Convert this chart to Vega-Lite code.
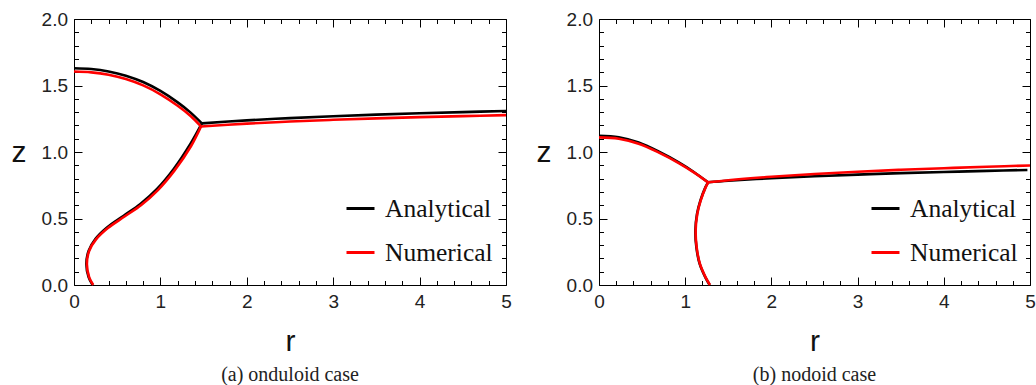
{
  "$schema": "https://vega.github.io/schema/vega-lite/v6.json",
  "padding": {"left": 10, "top": 9, "right": 5, "bottom": 2},
  "background": "white",
  "config": {
    "view": {"stroke": "#000", "strokeWidth": 1},
    "axis": {"grid": false, "domain": false, "tickColor": "#000", "tickWidth": 1, "labelFont": "Liberation Sans", "labelFontSize": 19, "labelColor": "#222", "titleFont": "Liberation Sans", "titleFontSize": 30, "titleFontWeight": "normal", "titleColor": "#111", "labelFlush": false, "labelOverlap": false},
    "legend": {"title": null, "orient": "none", "legendX": 271, "legendY": 174, "padding": 0, "symbolType": "stroke", "symbolSize": 784, "symbolStrokeWidth": 3, "labelFont": "Liberation Serif", "labelFontSize": 25.5, "labelColor": "#111", "labelOffset": 9, "rowPadding": 15, "labelLimit": 300},
    "title": {"font": "Liberation Serif", "fontSize": 20, "fontWeight": "normal", "color": "#222", "offset": 8},
    "concat": {"spacing": 23}
  },
  "datasets": {
    "a": [
      {"s": "Analytical", "g": "upper", "i": 0, "r": 0, "z": 1.630},
      {"s": "Analytical", "g": "upper", "i": 1, "r": 0.2, "z": 1.624},
      {"s": "Analytical", "g": "upper", "i": 2, "r": 0.4, "z": 1.606},
      {"s": "Analytical", "g": "upper", "i": 3, "r": 0.6, "z": 1.574},
      {"s": "Analytical", "g": "upper", "i": 4, "r": 0.8, "z": 1.526},
      {"s": "Analytical", "g": "upper", "i": 5, "r": 1.0, "z": 1.459},
      {"s": "Analytical", "g": "upper", "i": 6, "r": 1.2, "z": 1.373},
      {"s": "Analytical", "g": "upper", "i": 7, "r": 1.35, "z": 1.296},
      {"s": "Analytical", "g": "upper", "i": 8, "r": 1.48, "z": 1.215},
      {"s": "Analytical", "g": "right", "i": 0, "r": 1.48, "z": 1.215},
      {"s": "Analytical", "g": "right", "i": 1, "r": 2, "z": 1.238},
      {"s": "Analytical", "g": "right", "i": 2, "r": 2.5, "z": 1.255},
      {"s": "Analytical", "g": "right", "i": 3, "r": 3, "z": 1.269},
      {"s": "Analytical", "g": "right", "i": 4, "r": 3.5, "z": 1.281},
      {"s": "Analytical", "g": "right", "i": 5, "r": 4, "z": 1.291},
      {"s": "Analytical", "g": "right", "i": 6, "r": 4.5, "z": 1.300},
      {"s": "Analytical", "g": "right", "i": 7, "r": 5, "z": 1.308},
      {"s": "Analytical", "g": "lower", "i": 0, "r": 0.216, "z": 0},
      {"s": "Analytical", "g": "lower", "i": 1, "r": 0.17, "z": 0.057},
      {"s": "Analytical", "g": "lower", "i": 2, "r": 0.143, "z": 0.158},
      {"s": "Analytical", "g": "lower", "i": 3, "r": 0.17, "z": 0.258},
      {"s": "Analytical", "g": "lower", "i": 4, "r": 0.247, "z": 0.346},
      {"s": "Analytical", "g": "lower", "i": 5, "r": 0.382, "z": 0.433},
      {"s": "Analytical", "g": "lower", "i": 6, "r": 0.575, "z": 0.521},
      {"s": "Analytical", "g": "lower", "i": 7, "r": 0.768, "z": 0.609},
      {"s": "Analytical", "g": "lower", "i": 8, "r": 0.961, "z": 0.722},
      {"s": "Analytical", "g": "lower", "i": 9, "r": 1.154, "z": 0.872},
      {"s": "Analytical", "g": "lower", "i": 10, "r": 1.347, "z": 1.06},
      {"s": "Analytical", "g": "lower", "i": 11, "r": 1.48, "z": 1.215},
      {"s": "Numerical", "g": "upper", "i": 0, "r": 0, "z": 1.605},
      {"s": "Numerical", "g": "upper", "i": 1, "r": 0.2, "z": 1.599},
      {"s": "Numerical", "g": "upper", "i": 2, "r": 0.4, "z": 1.581},
      {"s": "Numerical", "g": "upper", "i": 3, "r": 0.6, "z": 1.549},
      {"s": "Numerical", "g": "upper", "i": 4, "r": 0.8, "z": 1.501},
      {"s": "Numerical", "g": "upper", "i": 5, "r": 1.0, "z": 1.434},
      {"s": "Numerical", "g": "upper", "i": 6, "r": 1.2, "z": 1.348},
      {"s": "Numerical", "g": "upper", "i": 7, "r": 1.35, "z": 1.271},
      {"s": "Numerical", "g": "upper", "i": 8, "r": 1.47, "z": 1.192},
      {"s": "Numerical", "g": "right", "i": 0, "r": 1.47, "z": 1.192},
      {"s": "Numerical", "g": "right", "i": 1, "r": 2, "z": 1.213},
      {"s": "Numerical", "g": "right", "i": 2, "r": 2.5, "z": 1.229},
      {"s": "Numerical", "g": "right", "i": 3, "r": 3, "z": 1.242},
      {"s": "Numerical", "g": "right", "i": 4, "r": 3.5, "z": 1.253},
      {"s": "Numerical", "g": "right", "i": 5, "r": 4, "z": 1.262},
      {"s": "Numerical", "g": "right", "i": 6, "r": 4.5, "z": 1.270},
      {"s": "Numerical", "g": "right", "i": 7, "r": 5, "z": 1.277},
      {"s": "Numerical", "g": "lower", "i": 0, "r": 0.222, "z": 0},
      {"s": "Numerical", "g": "lower", "i": 1, "r": 0.176, "z": 0.057},
      {"s": "Numerical", "g": "lower", "i": 2, "r": 0.149, "z": 0.158},
      {"s": "Numerical", "g": "lower", "i": 3, "r": 0.176, "z": 0.258},
      {"s": "Numerical", "g": "lower", "i": 4, "r": 0.255, "z": 0.343},
      {"s": "Numerical", "g": "lower", "i": 5, "r": 0.392, "z": 0.428},
      {"s": "Numerical", "g": "lower", "i": 6, "r": 0.585, "z": 0.515},
      {"s": "Numerical", "g": "lower", "i": 7, "r": 0.778, "z": 0.602},
      {"s": "Numerical", "g": "lower", "i": 8, "r": 0.971, "z": 0.714},
      {"s": "Numerical", "g": "lower", "i": 9, "r": 1.164, "z": 0.862},
      {"s": "Numerical", "g": "lower", "i": 10, "r": 1.355, "z": 1.045},
      {"s": "Numerical", "g": "lower", "i": 11, "r": 1.47, "z": 1.192}
    ],
    "b": [
      {"s": "Analytical", "g": "upper", "i": 0, "r": 0, "z": 1.122},
      {"s": "Analytical", "g": "upper", "i": 1, "r": 0.23, "z": 1.111},
      {"s": "Analytical", "g": "upper", "i": 2, "r": 0.46, "z": 1.071},
      {"s": "Analytical", "g": "upper", "i": 3, "r": 0.69, "z": 1.004},
      {"s": "Analytical", "g": "upper", "i": 4, "r": 0.925, "z": 0.922},
      {"s": "Analytical", "g": "upper", "i": 5, "r": 1.1, "z": 0.850},
      {"s": "Analytical", "g": "upper", "i": 6, "r": 1.265, "z": 0.772},
      {"s": "Analytical", "g": "right", "i": 0, "r": 1.265, "z": 0.772},
      {"s": "Analytical", "g": "right", "i": 1, "r": 1.5, "z": 0.784},
      {"s": "Analytical", "g": "right", "i": 2, "r": 2, "z": 0.803},
      {"s": "Analytical", "g": "right", "i": 3, "r": 2.5, "z": 0.818},
      {"s": "Analytical", "g": "right", "i": 4, "r": 3, "z": 0.830},
      {"s": "Analytical", "g": "right", "i": 5, "r": 3.5, "z": 0.841},
      {"s": "Analytical", "g": "right", "i": 6, "r": 4, "z": 0.850},
      {"s": "Analytical", "g": "right", "i": 7, "r": 4.5, "z": 0.858},
      {"s": "Analytical", "g": "right", "i": 8, "r": 4.97, "z": 0.865},
      {"s": "Analytical", "g": "lower", "i": 0, "r": 1.265, "z": 0.772},
      {"s": "Analytical", "g": "lower", "i": 1, "r": 1.234, "z": 0.734},
      {"s": "Analytical", "g": "lower", "i": 2, "r": 1.176, "z": 0.634},
      {"s": "Analytical", "g": "lower", "i": 3, "r": 1.137, "z": 0.534},
      {"s": "Analytical", "g": "lower", "i": 4, "r": 1.118, "z": 0.408},
      {"s": "Analytical", "g": "lower", "i": 5, "r": 1.13, "z": 0.283},
      {"s": "Analytical", "g": "lower", "i": 6, "r": 1.168, "z": 0.158},
      {"s": "Analytical", "g": "lower", "i": 7, "r": 1.234, "z": 0.057},
      {"s": "Analytical", "g": "lower", "i": 8, "r": 1.284, "z": 0},
      {"s": "Numerical", "g": "upper", "i": 0, "r": 0, "z": 1.110},
      {"s": "Numerical", "g": "upper", "i": 1, "r": 0.23, "z": 1.100},
      {"s": "Numerical", "g": "upper", "i": 2, "r": 0.46, "z": 1.062},
      {"s": "Numerical", "g": "upper", "i": 3, "r": 0.69, "z": 0.997},
      {"s": "Numerical", "g": "upper", "i": 4, "r": 0.925, "z": 0.917},
      {"s": "Numerical", "g": "upper", "i": 5, "r": 1.1, "z": 0.847},
      {"s": "Numerical", "g": "upper", "i": 6, "r": 1.265, "z": 0.772},
      {"s": "Numerical", "g": "right", "i": 0, "r": 1.265, "z": 0.772},
      {"s": "Numerical", "g": "right", "i": 1, "r": 1.5, "z": 0.788},
      {"s": "Numerical", "g": "right", "i": 2, "r": 2, "z": 0.814},
      {"s": "Numerical", "g": "right", "i": 3, "r": 2.5, "z": 0.835},
      {"s": "Numerical", "g": "right", "i": 4, "r": 3, "z": 0.852},
      {"s": "Numerical", "g": "right", "i": 5, "r": 3.5, "z": 0.866},
      {"s": "Numerical", "g": "right", "i": 6, "r": 4, "z": 0.878},
      {"s": "Numerical", "g": "right", "i": 7, "r": 4.5, "z": 0.889},
      {"s": "Numerical", "g": "right", "i": 8, "r": 5, "z": 0.899},
      {"s": "Numerical", "g": "lower", "i": 0, "r": 1.268, "z": 0.772},
      {"s": "Numerical", "g": "lower", "i": 1, "r": 1.237, "z": 0.734},
      {"s": "Numerical", "g": "lower", "i": 2, "r": 1.179, "z": 0.634},
      {"s": "Numerical", "g": "lower", "i": 3, "r": 1.14, "z": 0.534},
      {"s": "Numerical", "g": "lower", "i": 4, "r": 1.121, "z": 0.408},
      {"s": "Numerical", "g": "lower", "i": 5, "r": 1.133, "z": 0.283},
      {"s": "Numerical", "g": "lower", "i": 6, "r": 1.171, "z": 0.158},
      {"s": "Numerical", "g": "lower", "i": 7, "r": 1.237, "z": 0.057},
      {"s": "Numerical", "g": "lower", "i": 8, "r": 1.287, "z": 0}
    ]
  },
  "hconcat": [
    {
      "width": 432, "height": 266,
      "title": {"text": "(a) onduloid case", "orient": "bottom"},
      "data": {"name": "a"},
      "layer": [
        {
          "mark": {"type": "line", "strokeWidth": 2.6, "interpolate": "catmull-rom"},
          "encoding": {
            "x": {"field": "r", "type": "quantitative", "scale": {"domain": [0, 5], "nice": false, "zero": false},
              "axis": {"orient": "bottom", "values": [0,0.2,0.4,0.6,0.8,1,1.2,1.4,1.6,1.8,2,2.2,2.4,2.6,2.8,3,3.2,3.4,3.6,3.8,4,4.2,4.4,4.6,4.8,5],
                "labelExpr": "datum.value % 1 === 0 ? format(datum.value, 'd') : ''",
                "labelFontSize": 19, "labelFont": "Liberation Sans", "titleFontSize": 30, "titleFont": "Liberation Sans",
                "tickSize": {"condition": {"test": "datum.value % 1 === 0", "value": -8}, "value": -4.5},
                "labelPadding": 15, "title": "r", "titlePadding": 12}},
            "y": {"field": "z", "type": "quantitative", "scale": {"domain": [0, 2], "nice": false},
              "axis": {"orient": "left", "values": [0,0.1,0.2,0.3,0.4,0.5,0.6,0.7,0.8,0.9,1,1.1,1.2,1.3,1.4,1.5,1.6,1.7,1.8,1.9,2],
                "labelExpr": "datum.value % 0.5 === 0 ? format(datum.value, '.1f') : ''",
                "labelFontSize": 19, "labelFont": "Liberation Sans", "titleFontSize": 30, "titleFont": "Liberation Sans",
                "tickSize": {"condition": {"test": "datum.value % 0.5 === 0", "value": -8}, "value": -4.5},
                "labelPadding": 14.5, "title": "z", "titleAngle": 0, "titleAlign": "right", "titleBaseline": "middle", "titlePadding": 15}},
            "color": {"field": "s", "type": "nominal", "scale": {"domain": ["Analytical", "Numerical"], "range": ["#000000", "#ff0000"]}},
            "detail": {"field": "g"},
            "order": {"field": "i", "type": "quantitative"}
          }
        },
        {
          "mark": {"type": "line", "opacity": 0},
          "encoding": {
            "x": {"field": "r", "type": "quantitative",
              "axis": {"orient": "top", "values": [0,0.2,0.4,0.6,0.8,1,1.2,1.4,1.6,1.8,2,2.2,2.4,2.6,2.8,3,3.2,3.4,3.6,3.8,4,4.2,4.4,4.6,4.8,5],
                "labels": false, "title": null,
                "tickSize": {"condition": {"test": "datum.value % 1 === 0", "value": -8}, "value": -4.5}}},
            "y": {"field": "z", "type": "quantitative",
              "axis": {"orient": "right", "values": [0,0.1,0.2,0.3,0.4,0.5,0.6,0.7,0.8,0.9,1,1.1,1.2,1.3,1.4,1.5,1.6,1.7,1.8,1.9,2],
                "labels": false, "title": null,
                "tickSize": {"condition": {"test": "datum.value % 0.5 === 0", "value": -8}, "value": -4.5}}},
            "detail": {"field": "g"},
            "order": {"field": "i", "type": "quantitative"}
          }
        }
      ],
      "resolve": {"axis": {"x": "independent", "y": "independent"}}
    },
    {
      "width": 431, "height": 266,
      "title": {"text": "(b) nodoid case", "orient": "bottom"},
      "data": {"name": "b"},
      "layer": [
        {
          "mark": {"type": "line", "strokeWidth": 2.6, "interpolate": "catmull-rom"},
          "encoding": {
            "x": {"field": "r", "type": "quantitative", "scale": {"domain": [0, 5], "nice": false, "zero": false},
              "axis": {"orient": "bottom", "values": [0,0.2,0.4,0.6,0.8,1,1.2,1.4,1.6,1.8,2,2.2,2.4,2.6,2.8,3,3.2,3.4,3.6,3.8,4,4.2,4.4,4.6,4.8,5],
                "labelExpr": "datum.value % 1 === 0 ? format(datum.value, 'd') : ''",
                "labelFontSize": 19, "labelFont": "Liberation Sans", "titleFontSize": 30, "titleFont": "Liberation Sans",
                "tickSize": {"condition": {"test": "datum.value % 1 === 0", "value": -8}, "value": -4.5},
                "labelPadding": 15, "title": "r", "titlePadding": 12}},
            "y": {"field": "z", "type": "quantitative", "scale": {"domain": [0, 2], "nice": false},
              "axis": {"orient": "left", "values": [0,0.1,0.2,0.3,0.4,0.5,0.6,0.7,0.8,0.9,1,1.1,1.2,1.3,1.4,1.5,1.6,1.7,1.8,1.9,2],
                "labelExpr": "datum.value % 0.5 === 0 ? format(datum.value, '.1f') : ''",
                "labelFontSize": 19, "labelFont": "Liberation Sans", "titleFontSize": 30, "titleFont": "Liberation Sans",
                "tickSize": {"condition": {"test": "datum.value % 0.5 === 0", "value": -8}, "value": -4.5},
                "labelPadding": 14.5, "title": "z", "titleAngle": 0, "titleAlign": "right", "titleBaseline": "middle", "titlePadding": 15}},
            "color": {"field": "s", "type": "nominal", "scale": {"domain": ["Analytical", "Numerical"], "range": ["#000000", "#ff0000"]}},
            "detail": {"field": "g"},
            "order": {"field": "i", "type": "quantitative"}
          }
        },
        {
          "mark": {"type": "line", "opacity": 0},
          "encoding": {
            "x": {"field": "r", "type": "quantitative",
              "axis": {"orient": "top", "values": [0,0.2,0.4,0.6,0.8,1,1.2,1.4,1.6,1.8,2,2.2,2.4,2.6,2.8,3,3.2,3.4,3.6,3.8,4,4.2,4.4,4.6,4.8,5],
                "labels": false, "title": null,
                "tickSize": {"condition": {"test": "datum.value % 1 === 0", "value": -8}, "value": -4.5}}},
            "y": {"field": "z", "type": "quantitative",
              "axis": {"orient": "right", "values": [0,0.1,0.2,0.3,0.4,0.5,0.6,0.7,0.8,0.9,1,1.1,1.2,1.3,1.4,1.5,1.6,1.7,1.8,1.9,2],
                "labels": false, "title": null,
                "tickSize": {"condition": {"test": "datum.value % 0.5 === 0", "value": -8}, "value": -4.5}}},
            "detail": {"field": "g"},
            "order": {"field": "i", "type": "quantitative"}
          }
        }
      ],
      "resolve": {"axis": {"x": "independent", "y": "independent"}}
    }
  ],
  "resolve": {"scale": {"color": "independent"}, "legend": {"color": "independent"}}
}
